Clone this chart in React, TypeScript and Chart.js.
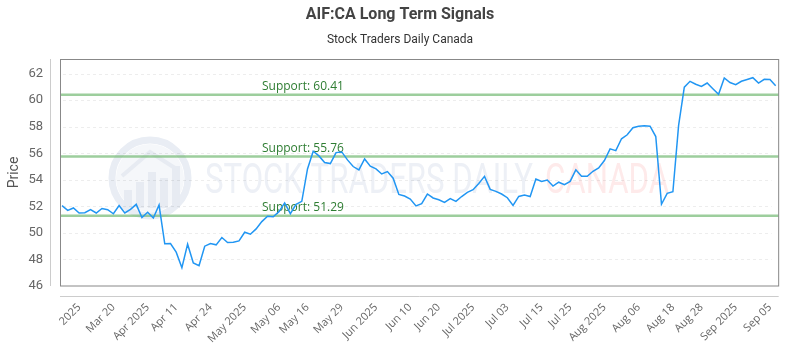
import React, { useEffect, useRef } from 'react';
import { Chart, registerables } from 'chart.js';

Chart.register(...registerables);

const titleText = 'AIF:CA Long Term Signals';
const subtitleText = 'Stock Traders Daily Canada';
const yAxisTitle = 'Price';

const prices: number[] = [
  52.05, 51.7, 51.88, 51.5, 51.52, 51.75, 51.5, 51.84, 51.75, 51.44,
  52.06, 51.5, 51.77, 52.15, 51.16, 51.56, 51.12, 52.1, 49.18, 49.2,
  48.55, 47.38, 49.15, 47.73, 47.53, 49.0, 49.2, 49.1, 49.65, 49.27,
  49.3, 49.4, 50.05, 49.9, 50.3, 50.85, 51.25, 51.22, 51.6, 52.26,
  51.45, 52.15, 52.38, 54.82, 56.15, 55.8, 55.3, 55.22, 56.05, 56.1,
  55.5, 55.0, 54.75, 55.57, 55.02, 54.82, 54.44, 54.62, 54.12, 52.9,
  52.78, 52.55, 52.03, 52.2, 52.93, 52.63, 52.5, 52.3, 52.58, 52.37,
  52.74, 53.05, 53.25, 53.72, 54.26, 53.28, 53.13, 52.93, 52.65, 52.07,
  52.75, 52.85, 52.74, 54.06, 53.87, 53.98, 53.53, 53.82, 53.64, 53.88,
  54.75, 54.26, 54.27, 54.64, 54.9, 55.45, 56.33, 56.2, 57.09, 57.39,
  57.92, 58.04, 58.07, 58.04, 57.26, 52.16, 52.98, 53.1, 58.1, 60.98,
  61.42, 61.2, 61.04, 61.29, 60.86, 60.44, 61.67, 61.33, 61.17, 61.42,
  61.55, 61.69, 61.29, 61.57, 61.55, 61.08,
];

const tickLabels: string[] = [
  '2025', 'Mar 20', 'Apr 2025', 'Apr 11', 'Apr 24', 'May 2025', 'May 06', 'May 16',
  'May 29', 'Jun 2025', 'Jun 10', 'Jun 20', 'Jul 2025', 'Jul 03', 'Jul 15', 'Jul 25',
  'Aug 2025', 'Aug 06', 'Aug 18', 'Aug 28', 'Sep 2025', 'Sep 05',
];
// index of the data point each tick label belongs to
const tickIndex: number[] = [
  3, 9, 15, 20, 26, 32, 38, 43, 49, 55, 61, 66, 72, 78, 84, 89, 95, 101, 107, 112, 118, 124,
];

const yTicks: number[] = [46, 48, 50, 52, 54, 56, 58, 60, 62];
const yMin = 46;
const yMax = 63.1;

const supportLevels: number[] = [60.41, 55.76, 51.29];

const categories: string[] = prices.map((_, i) => {
  const k = tickIndex.indexOf(i);
  return k >= 0 ? tickLabels[k] : '';
});

const decorPlugin = {
  id: 'decor',
  beforeDatasetsDraw(chart: any) {
    const { ctx, chartArea: a, scales } = chart;
    const y = scales.y;
    ctx.save();

    // watermark logo
    ctx.strokeStyle = '#e9edf4';
    ctx.lineWidth = 7;
    ctx.beginPath();
    ctx.arc(150, 178, 38, 0, Math.PI * 2);
    ctx.stroke();
    ctx.fillStyle = '#f5f7fa';
    ctx.beginPath();
    ctx.arc(150, 178, 34, 0, Math.PI * 2);
    ctx.fill();
    ctx.fillStyle = '#e7ebf2';
    const bars = [[124, 190], [136, 182], [148, 172], [160, 178], [172, 166]];
    bars.forEach(([bx, by]) => ctx.fillRect(bx, by, 8, 208 - by));
    ctx.strokeStyle = '#e7ebf2';
    ctx.lineWidth = 4;
    ctx.beginPath();
    ctx.moveTo(122, 176);
    ctx.lineTo(150, 152);
    ctx.lineTo(178, 170);
    ctx.stroke();

    // watermark text (condensed)
    ctx.font = '42px Roboto';
    ctx.textBaseline = 'alphabetic';
    ctx.textAlign = 'left';
    const drawCond = (txt: string, x0: number, x1: number, color: string) => {
      const w = ctx.measureText(txt).width;
      ctx.save();
      ctx.translate(x0, 193);
      ctx.scale((x1 - x0) / w, 1);
      ctx.fillStyle = color;
      ctx.fillText(txt, 0, 0);
      ctx.restore();
    };
    drawCond('STOCK TRADERS DAILY', 205, 533, '#edf0f6');
    drawCond('CANADA', 545, 669, '#feeaea');

    // dashed grid
    ctx.setLineDash([3, 3]);
    ctx.strokeStyle = 'rgba(0,0,0,0.07)';
    ctx.lineWidth = 1;
    yTicks.forEach((v) => {
      if (v <= yMin) return;
      const py = Math.round(y.getPixelForValue(v)) + 0.5;
      ctx.beginPath();
      ctx.moveTo(a.left + 1, py);
      ctx.lineTo(a.right - 4, py);
      ctx.stroke();
    });
    ctx.setLineDash([]);

    // support lines
    supportLevels.forEach((s) => {
      const py = y.getPixelForValue(s);
      ctx.strokeStyle = 'rgba(115,185,115,0.7)';
      ctx.lineWidth = 2.5;
      ctx.beginPath();
      ctx.moveTo(a.left - 2, py);
      ctx.lineTo(a.right + 3, py);
      ctx.stroke();
      ctx.fillStyle = '#2e7d32';
      ctx.font = '12px "Open Sans"';
      ctx.textAlign = 'left';
      ctx.textBaseline = 'alphabetic';
      ctx.fillText(`Support: ${s.toFixed(2)}`, a.left + 200, py - 4.5);
    });
    ctx.restore();
  },
  afterDraw(chart: any) {
    const { ctx, chartArea: a } = chart;
    ctx.save();
    // plot border
    ctx.strokeStyle = '#888888';
    ctx.lineWidth = 1;
    ctx.strokeRect(a.left - 1.5, a.top + 0.5, a.right + 3 - (a.left - 1.5), a.bottom - a.top - 0.5);
    // axis lines
    ctx.strokeStyle = '#cccccc';
    ctx.beginPath();
    ctx.moveTo(50.5, a.top);
    ctx.lineTo(50.5, a.bottom);
    ctx.stroke();
    ctx.beginPath();
    ctx.moveTo(a.left - 2, 296.5);
    ctx.lineTo(a.right + 3, 296.5);
    ctx.stroke();
    // titles
    ctx.textAlign = 'center';
    ctx.textBaseline = 'middle';
    ctx.fillStyle = '#444444';
    ctx.font = 'bold 16px Roboto';
    ctx.fillText(titleText, 400, 15);
    ctx.fillStyle = '#333333';
    ctx.font = '12px Roboto';
    ctx.fillText(subtitleText, 400, 40);
    ctx.restore();
  },
};

export default function App() {
  const ref = useRef<HTMLCanvasElement | null>(null);
  useEffect(() => {
    if (!ref.current) return;
    const chart = new Chart(ref.current, {
      type: 'line',
      data: {
        labels: categories,
        datasets: [
          {
            data: prices,
            borderColor: '#2196F3',
            borderWidth: 1.5,
            pointRadius: 0,
            tension: 0,
            fill: false,
          },
        ],
      },
      options: {
        responsive: false,
        animation: false,
        layout: { padding: { top: 59, right: 13, left: 0, bottom: 0 } },
        plugins: {
          legend: { display: false },
          tooltip: { enabled: false },
          title: { display: false },
        },
        scales: {
          x: {
            type: 'category',
            offset: false,
            grid: { display: false, drawTicks: false },
            border: { display: false },
            ticks: {
              autoSkip: false,
              minRotation: 45,
              maxRotation: 45,
              padding: 15,
              color: '#666666',
              font: { family: '"Open Sans"', size: 11 },
              callback: (_v: any, i: number) => categories[i],
            },
            afterFit: (s: any) => {
              s.height = 64;
            },
          },
          y: {
            min: yMin,
            max: yMax,
            grid: { display: false, drawTicks: false },
            border: { display: false },
            ticks: {
              padding: 19,
              color: '#666666',
              font: { family: 'Roboto', size: 13 },
              callback: (v: any) => String(v),
            },
            afterBuildTicks: (s: any) => {
              s.ticks = yTicks.map((v) => ({ value: v }));
            },
            title: {
              display: true,
              text: yAxisTitle,
              color: '#555555',
              font: { family: 'Roboto', size: 14 },
              padding: { top: 6, bottom: 0 },
            },
            afterFit: (s: any) => {
              s.width = 62;
            },
          },
        },
      },
      plugins: [decorPlugin],
    });
    return () => chart.destroy();
  }, []);
  return (
    <div style={{ position: 'fixed', left: 0, top: 0, width: 800, height: 350, background: '#fff' }}>
      <canvas ref={ref} width={800} height={350} style={{ display: 'block' }} />
    </div>
  );
}
